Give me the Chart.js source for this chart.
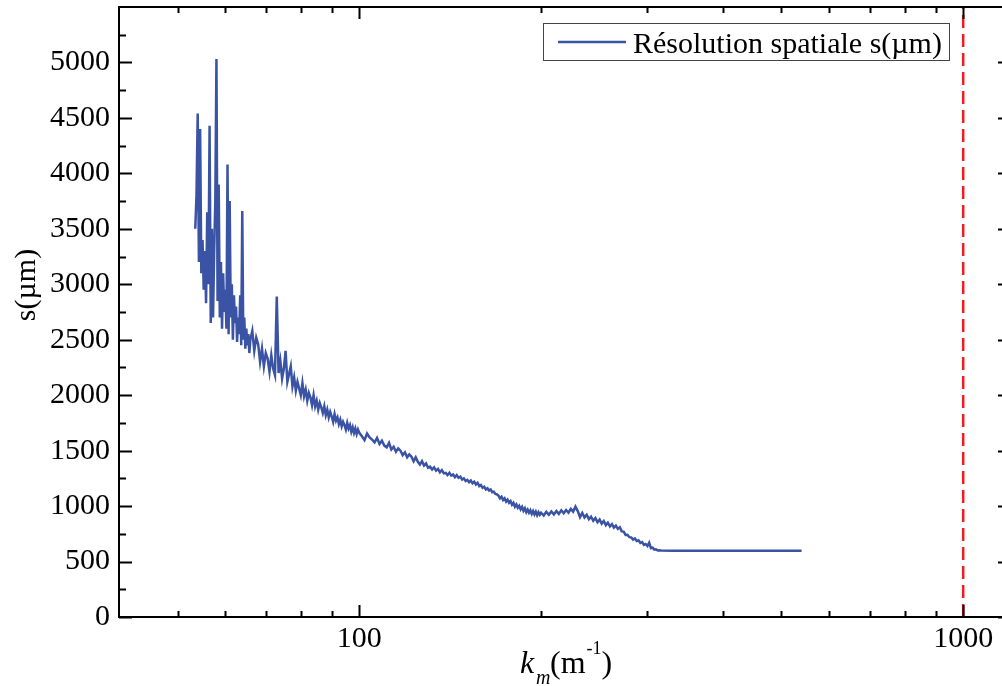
<!DOCTYPE html>
<html><head><meta charset="utf-8">
<script src="https://cdn.jsdelivr.net/npm/chart.js@4.4.1/dist/chart.umd.min.js"></script>
<style>
html,body{margin:0;padding:0;overflow:hidden;background:#fff;width:1002px;height:686px}
#wrap{width:1012px;height:686px;position:relative}
canvas{display:block}
</style></head>
<body><div id="wrap"><canvas id="c" width="1012" height="686"></canvas></div>
<script>
// ---- data ----
const km = [
  53.5,53.75,54,54.25,54.5,54.75,55,55.25,55.5,55.75,56,56.25,56.5,56.75,57,57.25,57.5,57.75,58,58.25,
  58.5,58.75,59,59.25,59.5,59.75,60,60.25,60.5,60.75,61,61.25,61.5,61.75,62,62.25,62.5,62.75,63,63.25,
  63.5,63.75,64,64.25,64.5,64.75,65,65.25,65.5,65.75,66,
  66.5,67,67.5,68,68.5,69,69.5,70,70.5,71,71.5,72,72.5,73,
  73.5,74,74.5,75,75.5,76,76.5,77,77.5,78,78.5,79,79.5,80,
  80.5,81,81.5,82,82.5,83,83.5,84,84.5,85,85.5,86,86.5,87,
  87.5,88,88.5,89,89.5,90,90.5,91,91.5,92,92.5,93,93.5,94,
  94.5,95,95.5,96,96.5,97,97.5,98,98.5,99,99.5,100,
  101,102,103,104,105,106,107,108,109,110,111,112,113,114,115,116,117,118,119,120,
  121,122,123,124,125,126,127,128,129,130,131,132,133,134,135,136,137,138,139,140,
  141,142,143,144,145,146,147,148,149,150,151,152,153,154,155,156,157,158,159,160,
  161,162,163,164,165,166,167,168,169,170,171,172,173,174,175,176,177,178,179,180,
  181,182,183,184,185,186,187,188,189,190,191,192,193,194,195,196,197,198,199,200,
  202,204,206,208,210,212,214,216,218,220,222,224,226,228,230,232,234,236,238,240,
  242,244,246,248,250,252,254,256,258,260,262,264,266,268,270,272,274,276,278,280,
  282,284,286,288,290,292,294,296,298,300,302,304,306,308,310,312,314,316,
  330,360,400,450,500,540
];
const s = [
  3500,3800,4540,3200,4400,3100,3400,2950,3300,2830,3650,3000,4430,2650,3500,2700,3300,3750,5030,2850,
  3900,2700,3200,2600,3100,2750,2950,2600,4080,2550,3750,2700,3000,2500,2900,2650,2800,2480,2700,2550,
  2900,2450,3660,2500,2700,2420,2600,2450,2550,2380,2500,
  2580,2400,2520,2460,2300,2420,2260,2380,2330,2210,2360,2240,2180,2890,
  2200,2310,2150,2240,2400,2120,2190,2260,2080,2160,2040,2120,2060,2000,
  2110,1990,2050,1950,2020,1980,1910,2000,1900,1950,1870,1930,1890,1840,
  1900,1820,1870,1800,1850,1810,1760,1830,1770,1800,1740,1780,1720,1760,
  1730,1690,1750,1700,1730,1670,1710,1660,1700,1650,1690,1660,
  1630,1595,1655,1620,1600,1575,1615,1560,1590,1545,1530,1570,1510,1535,1490,1520,1500,1460,1485,1440,
  1465,1445,1405,1440,1400,1375,1405,1365,1385,1345,1355,1330,1350,1320,1335,1305,1325,1295,1300,1280,
  1300,1275,1285,1260,1280,1255,1265,1240,1250,1225,1235,1215,1230,1205,1220,1195,1210,1180,1190,1165,
  1175,1150,1160,1140,1150,1125,1130,1110,1105,1095,1070,1085,1055,1070,1040,1058,1030,1045,1012,1030,
  995,1015,985,1002,970,992,958,980,945,968,940,962,930,955,925,950,918,945,922,940,
  915,948,922,952,925,955,930,962,935,965,940,975,950,995,955,900,938,898,922,882,
  905,868,892,855,878,842,865,828,850,818,838,805,825,795,810,772,770,740,742,720,
  718,698,708,685,692,668,676,650,658,640,670,622,625,608,610,600,602,599,
  598,598,598,598,598,598
];
const seriesLabel = 'Résolution spatiale s(µm)';
const limitKm = 1000;
const xRange = [40, 1200];
const yRange = [0, 5500];
const xMajorTicks = [100, 1000];
const xMinorTicks = [50, 60, 70, 80, 90, 200, 300, 400, 500, 600, 700, 800, 900];
const yMajorTicks = [0, 500, 1000, 1500, 2000, 2500, 3000, 3500, 4000, 4500, 5000];
const yMinorTicks = [250, 750, 1250, 1750, 2250, 2750, 3250, 3750, 4250, 4750, 5250];

const FONT = "'Liberation Serif','Times New Roman',serif";
const BLUE = '#3A53A5';
const RED = '#EE1D23';

const decorPlugin = {
  id: 'decor',
  afterDatasetsDraw(chart) {
    const ctx = chart.ctx;
    const ca = chart.chartArea;
    const xs = chart.scales.x, ys = chart.scales.y;
    ctx.save();
    ctx.strokeStyle = '#000';
    ctx.lineWidth = 2;
    const drawX = (vals, len) => vals.forEach(v => {
      const px = Math.round(xs.getPixelForValue(v)) + 0.5;
      ctx.beginPath();
      ctx.moveTo(px, ca.bottom); ctx.lineTo(px, ca.bottom - len);
      ctx.moveTo(px, ca.top); ctx.lineTo(px, ca.top + len);
      ctx.stroke();
    });
    const drawY = (vals, len) => vals.forEach(v => {
      const py = Math.round(ys.getPixelForValue(v)) + 0.5;
      ctx.beginPath();
      ctx.moveTo(ca.left, py); ctx.lineTo(ca.left + len, py);
      ctx.moveTo(ca.right, py); ctx.lineTo(ca.right - len, py);
      ctx.stroke();
    });
    drawX(xMajorTicks, 12); drawX(xMinorTicks, 6);
    drawY(yMajorTicks, 13); drawY(yMinorTicks, 7);
    ctx.strokeRect(ca.left, ca.top, ca.right - ca.left, ca.bottom - ca.top);

    // legend
    ctx.lineWidth = 1;
    ctx.strokeStyle = '#444';
    ctx.strokeRect(543.5, 23.5, 406, 37);
    ctx.strokeStyle = chart.data.datasets[0].borderColor;
    ctx.lineWidth = 2.5;
    ctx.beginPath(); ctx.moveTo(558, 42); ctx.lineTo(626, 42); ctx.stroke();
    ctx.fillStyle = '#000';
    ctx.font = '30px ' + FONT;
    ctx.textAlign = 'left';
    ctx.textBaseline = 'alphabetic';
    ctx.fillText(chart.data.datasets[0].label, 633, 53);

    // y-axis title
    ctx.save();
    ctx.translate(27, 285);
    ctx.rotate(-Math.PI / 2);
    ctx.textAlign = 'center';
    ctx.textBaseline = 'middle';
    ctx.font = '30px ' + FONT;
    ctx.fillText('s(µm)', 0, 0);
    ctx.restore();

    // x-axis title: k_m(m^-1)
    ctx.textAlign = 'left';
    ctx.textBaseline = 'alphabetic';
    ctx.font = 'italic 32px ' + FONT;
    ctx.fillText('k', 520, 673);
    ctx.font = 'italic 20px ' + FONT;
    ctx.fillText('m', 536, 684);
    let x = 550;
    ctx.font = '32px ' + FONT;
    ctx.fillText('(m', x, 673);
    x += ctx.measureText('(m').width + 1;
    ctx.font = '18px ' + FONT;
    ctx.fillText('-1', x, 654);
    x += ctx.measureText('-1').width;
    ctx.font = '32px ' + FONT;
    ctx.fillText(')', x, 673);
    ctx.restore();
  }
};

new Chart(document.getElementById('c'), {
  type: 'line',
  data: {
    datasets: [
      { label: seriesLabel, data: km.map((x, i) => ({ x: x, y: s[i] })),
        borderColor: BLUE, borderWidth: 2.5, pointRadius: 0, tension: 0, fill: false },
      { label: 'limit', data: [{ x: limitKm, y: yRange[0] }, { x: limitKm, y: yRange[1] }],
        borderColor: RED, borderWidth: 2.5, borderDash: [13, 6], pointRadius: 0, fill: false }
    ]
  },
  options: {
    responsive: false,
    animation: false,
    devicePixelRatio: 1,
    layout: { padding: { top: 7, right: 1, left: 0, bottom: 0 } },
    plugins: { legend: { display: false }, tooltip: { enabled: false } },
    scales: {
      x: {
        type: 'logarithmic', min: xRange[0], max: xRange[1],
        grid: { display: false, drawTicks: false }, border: { display: false },
        afterBuildTicks(scale) {
          scale.ticks = [...xMinorTicks, ...xMajorTicks].sort((a, b) => a - b).map(v => ({ value: v }));
        },
        afterFit(scale) { scale.height = 69; scale.paddingLeft = 0; scale.paddingRight = 0; },
        ticks: {
          autoSkip: false, maxRotation: 0, minRotation: 0, padding: 4, color: '#000',
          font: { family: FONT, size: 30 },
          callback(v) { return xMajorTicks.includes(v) ? String(v) : ''; }
        }
      },
      y: {
        type: 'linear', min: yRange[0], max: yRange[1],
        grid: { display: false, drawTicks: false }, border: { display: false },
        afterBuildTicks(scale) {
          scale.ticks = [...yMajorTicks, ...yMinorTicks].sort((a, b) => a - b).map(v => ({ value: v }));
        },
        afterFit(scale) { scale.width = 119; scale.paddingTop = 0; scale.paddingBottom = 0; },
        ticks: {
          autoSkip: false, padding: 9, color: '#000',
          font: { family: FONT, size: 30 },
          callback(v) { return yMajorTicks.includes(v) ? String(v) : ''; }
        }
      }
    }
  },
  plugins: [decorPlugin]
});
</script>
</body></html>
